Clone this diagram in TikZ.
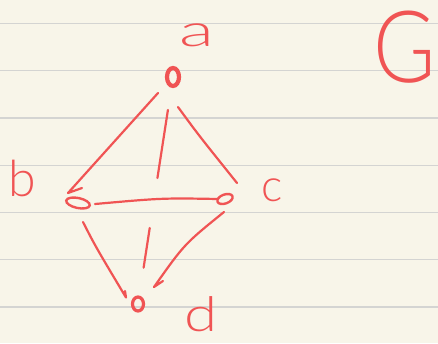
\documentclass[tikz,border=0pt]{standalone}
\usepackage{fontspec}
\usepackage{graphicx}
\newfontfamily\hand{Lato}[UprightFont={* Light}]
\usetikzlibrary{shapes.geometric,calc}
\definecolor{paper}{RGB}{248,245,233}
\definecolor{rulecol}{RGB}{212,212,210}
\definecolor{ink}{RGB}{240,84,84}
\begin{document}
\begin{tikzpicture}[x=1pt,y=-1pt,
  edge/.style={draw=ink,line width=2.2pt,line cap=round,line join=round},
  vert/.style={ellipse,draw=ink,line width=2.4pt,inner sep=0pt},
  lab/.style={text=ink,inner sep=0pt,anchor=center}]
\fill[paper] (0,0) rectangle (438,343);
\useasboundingbox (0,0) rectangle (438,343);
\foreach \y in {23.3,70.7,118,165.3,212.3,259.7,307}
  \draw[rulecol,line width=1.4pt] (0,\y) -- (438,\y);
% vertices
\node[vert,minimum width=12pt,minimum height=18pt,line width=4.2pt] (a) at (173,77) {};
\node[vert,minimum width=24pt,minimum height=10pt,rotate=-12] (b) at (78,203) {};
\node[vert,minimum width=16pt,minimum height=9pt,rotate=20] (c) at (225,199) {};
\node[vert,minimum width=11pt,minimum height=14pt,line width=3.2pt] (d) at (138,304) {};
% edges
\draw[edge] ([shift={(-15,16)}]a.center) -- ([shift={(-10,-10)}]b.center) -- ([shift={(4,-15)}]b.center);
\draw[edge] ($(a.center)!0.145!(d.center)$) -- ($(a.center)!0.445!(d.center)$);
\draw[edge] ($(a.center)!0.665!(d.center)$) -- ($(a.center)!0.84!(d.center)$);
\draw[edge] ([shift={(5,30)}]a.center) .. controls ([shift={(25.5,58)}]a.center) .. ([shift={(12,-16)}]c.center);
\draw[edge] ([shift={(17,1)}]b.center) .. controls ([shift={(84.5,-5)}]b.center) .. ([shift={(-7,0)}]c.center);
\draw[edge] ([shift={(5,19)}]b.center) .. controls ([shift={(17.5,43.5)}]b.center) .. ([shift={(-12,-6.5)}]d.center) -- ([shift={(-13,-13)}]d.center);
\draw[edge] ([shift={(-1,13)}]c.center) .. controls ([shift={(-40.6,45)}]c.center) .. ([shift={(16,-17)}]d.center) -- ([shift={(25,-23)}]d.center);
% labels
\node[lab,font=\hand\fontsize{45}{45}\selectfont] (la) at (197,35) {\scalebox{1.6}[1]{a}};
\node[lab,font=\hand\fontsize{50}{50}\selectfont] (lb) at (22,178) {b};
\node[lab,font=\hand\fontsize{45}{45}\selectfont] (lc) at (272,190) {c};
\node[lab,font=\hand\fontsize{48}{48}\selectfont] (ld) at (201,314) {\scalebox{1.25}[1]{d}};
\node[lab,font=\hand\fontsize{100}{100}\selectfont] (lG) at (405,47) {\scalebox{0.85}[1]{G}};
\end{tikzpicture}
\end{document}
